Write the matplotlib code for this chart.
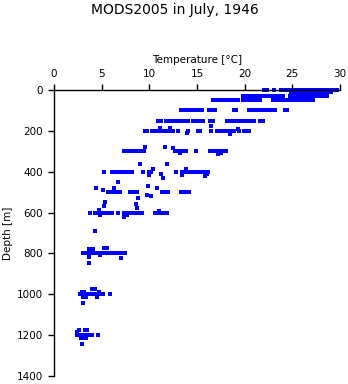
import matplotlib
matplotlib.use("Agg")
import matplotlib.pyplot as plt

# Temperatures (deg C) observed at standard depths
t_0 = [22.0, 22.3, 23.1, 23.8, 24.2, 24.6, 25.0, 25.3, 25.6, 25.9, 26.2, 26.5, 26.8, 27.1,
       27.4, 27.7, 28.0, 28.3, 28.6, 28.9, 29.2, 29.5, 29.7]
t_10 = [24.9, 25.2, 25.5, 25.8, 26.1, 26.4, 26.7, 27.0, 27.3, 27.6, 27.9, 28.2, 28.5, 28.8, 29.1]
t_30 = [19.8, 20.1, 20.4, 20.7, 21.0, 21.3, 21.6, 22.0, 22.3, 22.6, 22.9, 23.2, 23.5, 23.8,
        24.0, 24.8, 25.1, 25.4, 25.7, 26.0, 26.3, 26.6, 26.9, 27.2, 27.5, 27.8, 28.1, 28.4, 28.6]
t_50 = [16.7, 17.0, 17.3, 17.6, 17.9, 18.2, 18.5, 18.8, 19.1, 19.3, 19.8, 20.1, 20.4, 20.6,
        21.0, 21.3, 21.6, 23.0, 23.3, 23.6, 23.9, 24.2, 24.5, 24.8, 25.1, 25.4, 25.7, 26.0,
        26.3, 26.6, 26.9, 27.2]
t_100 = [13.3, 13.5, 14.0, 14.3, 14.6, 14.9, 15.2, 15.5, 16.3, 16.6, 16.9, 18.9, 19.1, 20.5,
         20.8, 21.1, 21.4, 21.7, 22.0, 22.3, 22.6, 22.9, 23.2, 24.2, 24.4]
t_150 = [10.9, 11.2, 11.8, 12.1, 12.4, 12.7, 12.9, 13.1, 13.4, 13.9, 14.1, 14.6, 14.9, 15.2,
         15.6, 16.4, 16.7, 18.2, 18.5, 18.8, 19.1, 19.4, 19.7, 20.0, 20.3, 20.6, 21.0, 21.6, 21.9]
t_200 = [9.6, 9.8, 10.3, 10.6, 10.9, 11.2, 11.5, 12.0, 12.3, 12.5, 13.0, 14.1, 15.1, 15.3,
         16.5, 17.1, 17.4, 17.7, 18.0, 18.3, 18.6, 18.9, 19.4, 19.9, 20.2, 20.5]
t_300 = [7.3, 7.6, 8.0, 8.3, 8.6, 8.9, 9.2, 9.4, 12.7, 13.0, 13.4, 13.8, 14.9, 16.4, 16.7,
         17.0, 17.3, 17.6, 18.0]
t_400 = [5.3, 6.1, 6.5, 6.8, 7.1, 7.4, 7.7, 8.0, 8.2, 9.3, 10.0, 10.2, 12.8, 13.4, 13.8,
         14.1, 14.4, 14.7, 15.0, 15.3, 15.6, 15.9, 16.2]
t_500 = [5.7, 6.0, 6.3, 6.6, 6.9, 8.0, 8.3, 8.7, 11.3, 11.6, 12.0, 13.3, 13.6, 13.9, 14.2]
t_600 = [3.8, 4.3, 4.6, 4.9, 5.2, 5.5, 5.8, 6.1, 6.7, 7.3, 7.8, 8.1, 8.4, 8.7, 9.0, 9.2,
         10.6, 10.9, 11.2, 11.5, 11.9]
t_800 = [3.1, 3.4, 3.7, 4.0, 4.3, 4.5, 4.8, 5.1, 5.4, 5.7, 6.0, 6.3, 6.6, 6.9, 7.2, 7.5]
t_1000 = [2.7, 3.0, 3.3, 3.6, 3.9, 4.2, 4.5, 4.8, 5.1, 5.9]
t_1200 = [2.4, 2.7, 3.0, 3.3, 3.6, 4.0, 4.6]

level_depths = [0, 10, 30, 50, 100, 150, 200, 300, 400, 500, 600, 800, 1000, 1200]
level_temps = [t_0, t_10, t_30, t_50, t_100, t_150, t_200, t_300, t_400, t_500, t_600,
               t_800, t_1000, t_1200]

# Off-level observations
scatter_depth = [185, 185, 210, 215, 190, 175, 280, 280, 285, 310, 315, 310,
                 362, 362, 385, 430, 410, 385, 415, 410, 450, 415, 420,
                 480, 490, 480, 515, 480, 470, 520, 530, 548, 577, 560,
                 570, 585, 620, 610, 590, 610, 690,
                 780, 780, 775, 775, 815, 820, 845, 810,
                 975, 975, 990, 990, 990, 1015, 1015, 1015, 1045,
                 1175, 1175, 1175, 1185, 1215, 1215, 1215, 1245]
scatter_temp = [11.1, 12.2, 14.0, 18.5, 19.3, 16.5, 9.6, 11.6, 12.5, 13.2, 17.2, 17.5,
                9.0, 11.9, 10.4, 11.4, 11.2, 13.9, 13.4, 16.0, 6.7, 10.0, 15.8,
                4.4, 5.1, 6.3, 9.8, 10.8, 9.9, 10.2, 8.8, 5.4, 8.7, 8.6,
                5.2, 4.7, 7.3, 7.7, 11.0, 4.8, 4.3,
                3.7, 4.1, 5.3, 5.6, 3.7, 7.0, 3.7, 4.8,
                4.0, 4.3, 2.9, 3.2, 4.7, 3.1, 3.4, 4.5, 3.1,
                2.6, 3.3, 3.5, 2.4, 2.8, 3.1, 3.4, 2.9]

x_ticks = [0, 5, 10, 15, 20, 25, 30]
y_ticks = [0, 200, 400, 600, 800, 1000, 1200, 1400]

plt.rcParams['font.family'] = ['DejaVu Sans']

fig = plt.figure(figsize=(3.48, 3.84), dpi=100)
ax = fig.add_axes([0.155, 0.0208, 0.822, 0.7448])

xs, ys = [], []
for d, temps in zip(level_depths, level_temps):
    for t in temps:
        xs.append(t)
        ys.append(d)
xs += scatter_temp
ys += scatter_depth

ax.scatter(xs, ys, s=4.7, marker='s', color='#0000ff', linewidths=0, clip_on=False)

ax.set_xlim(0, 30)
ax.set_ylim(1400, 0)
ax.set_xticks(x_ticks)
ax.set_yticks(y_ticks)
ax.xaxis.tick_top()
ax.xaxis.set_label_position('top')
ax.spines['right'].set_visible(False)
ax.spines['bottom'].set_visible(False)
for s in ['top', 'left']:
    ax.spines[s].set_linewidth(1.0)
ax.tick_params(axis='x', direction='out', length=4, width=1.0, labelsize=7.5, pad=4)
ax.tick_params(axis='y', direction='out', length=4, width=1.0, labelsize=7.5, pad=4)
ax.set_xlabel('Temperature [°C]', fontsize=7.5, labelpad=4)

fig.text(8 / 348, 0.0208 + 0.7448 / 2, 'Depth [m]', rotation=90, ha='center', va='center',
         fontsize=7.5)
fig.text(0.503, 0.974, 'MODS2005 in July, 1946', ha='center', va='center', fontsize=10)

fig.savefig('out.png', dpi=100)
